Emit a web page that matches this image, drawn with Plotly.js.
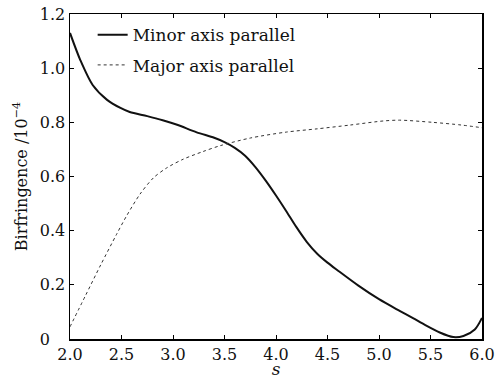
<!DOCTYPE html>
<html>
<head>
<meta charset="utf-8">
<script src="https://cdn.plot.ly/plotly-3.0.1.min.js"></script>
<style>html,body{margin:0;padding:0;background:#fff;}#chart{width:499px;height:379px;}</style>
</head>
<body>
<div id="chart"></div>
<script>
// Data
const minorX = [2.0, 2.1, 2.22, 2.36, 2.49, 2.58, 2.75, 2.9, 3.04, 3.23, 3.4, 3.5, 3.6, 3.7, 3.8, 3.9, 4.0, 4.1, 4.2, 4.3, 4.4, 4.5, 4.6, 4.8, 5.0, 5.2, 5.33, 5.45, 5.59, 5.72, 5.82, 5.93, 6.0];
const minorY = [1.13, 1.03, 0.938, 0.883, 0.853, 0.838, 0.823, 0.808, 0.791, 0.763, 0.743, 0.727, 0.706, 0.677, 0.635, 0.585, 0.530, 0.472, 0.412, 0.358, 0.315, 0.282, 0.253, 0.197, 0.147, 0.104, 0.077, 0.051, 0.024, 0.007, 0.011, 0.035, 0.078];
const majorX = [2.0, 2.15, 2.3, 2.45, 2.55, 2.68, 2.81, 2.94, 3.10, 3.29, 3.46, 3.75, 4.1, 4.4, 4.72, 5.04, 5.2, 5.52, 5.8, 6.0];
const majorY = [0.045, 0.16, 0.275, 0.385, 0.455, 0.535, 0.595, 0.632, 0.664, 0.692, 0.714, 0.742, 0.764, 0.776, 0.79, 0.805, 0.808, 0.80, 0.79, 0.78];
const seriesNames = ["Minor axis parallel", "Major axis parallel"];
const xTickVals = [2.0, 2.5, 3.0, 3.5, 4.0, 4.5, 5.0, 5.5, 6.0];
const xTickText = ["2.0", "2.5", "3.0", "3.5", "4.0", "4.5", "5.0", "5.5", "6.0"];
const yTickVals = [0, 0.2, 0.4, 0.6, 0.8, 1.0, 1.2];
const yTickText = ["0\u00a0\u00a0\u00a0", "0.2", "0.4", "0.6", "0.8", "1.0", "1.2"];

const FONT = "DejaVu Serif, Liberation Serif, serif";

const traces = [
  {x: minorX, y: minorY, name: seriesNames[0], mode: "lines", legendgroup: "a",
   line: {color: "#111", width: 2, shape: "spline", smoothing: 0.8}},
  {x: majorX, y: majorY, name: seriesNames[1], mode: "lines", legendgroup: "b",
   line: {color: "#333", width: 1, dash: "dot", shape: "spline", smoothing: 0.8}}
];

const axisCommon = {
  showline: true, linecolor: "#000", linewidth: 1.5, mirror: "ticks",
  ticks: "inside", ticklen: 4, tickwidth: 1, tickcolor: "#000",
  showgrid: false, zeroline: false,
  tickfont: {family: FONT, size: 16, color: "#111"}
};

const layout = {
  width: 499, height: 379,
  margin: {l: 70, r: 17, t: 14, b: 40},
  paper_bgcolor: "#fff", plot_bgcolor: "#fff",
  font: {family: FONT, color: "#111"},
  showlegend: true,
  legend: {
    x: 0.055, y: 0.99, xanchor: "left", yanchor: "top",
    bgcolor: "rgba(0,0,0,0)", borderwidth: 0,
    font: {family: FONT, size: 17, color: "#111"},
    traceorder: "grouped", tracegroupgap: 5
  },
  xaxis: Object.assign({}, axisCommon, {
    range: [2.0, 6.0], tickmode: "array", tickvals: xTickVals, ticktext: xTickText,
    title: {text: "<i>s</i>", font: {family: FONT, size: 17, color: "#111"}, standoff: 4}
  }),
  yaxis: Object.assign({}, axisCommon, {
    range: [0, 1.2], tickmode: "array", tickvals: yTickVals, ticktext: yTickText,
    title: {text: "Birfringence /10<sup>−4</sup>", font: {family: FONT, size: 16, color: "#111"}, standoff: 8}
  })
};

Plotly.newPlot("chart", traces, layout, {displayModeBar: false, staticPlot: true});
</script>
</body>
</html>
